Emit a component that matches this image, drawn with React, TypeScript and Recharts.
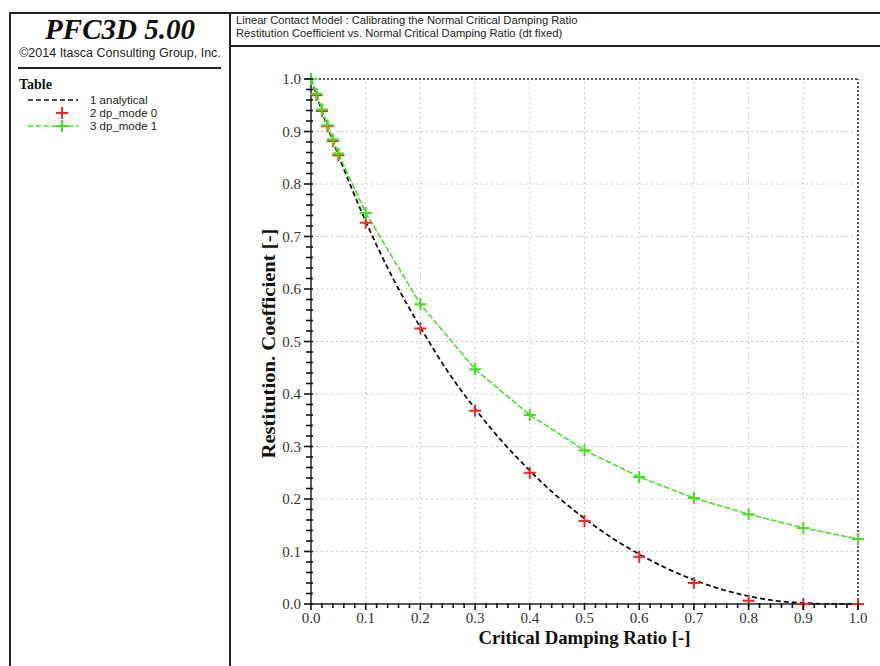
import React from 'react';
import { LineChart, Line, XAxis, YAxis, ReferenceLine } from 'recharts';

// critical damping ratio at which the simulations were run
const dampingRatio = [0, 0.01, 0.02, 0.03, 0.04, 0.05, 0.1, 0.2, 0.3, 0.4, 0.5, 0.6, 0.7, 0.8, 0.9, 1.0];
const dpMode0 = [1.0, 0.969, 0.939, 0.91, 0.882, 0.855, 0.726, 0.525, 0.368, 0.25, 0.158, 0.09, 0.04, 0.006, 0.0, 0.0];
const dpMode1 = [1.0, 0.972, 0.942, 0.912, 0.885, 0.858, 0.745, 0.571, 0.447, 0.36, 0.293, 0.242, 0.202, 0.171, 0.145, 0.124];

// analytical curve
const analyticalRatio = [0, 0.01, 0.02, 0.03, 0.04, 0.05, 0.075, 0.1, 0.15, 0.2, 0.25, 0.3, 0.35, 0.4, 0.45, 0.5, 0.55, 0.6, 0.65, 0.7, 0.75, 0.8, 0.85, 0.9, 0.95, 1.0];
const analyticalCoef = [1.0, 0.969, 0.939, 0.91, 0.882, 0.855, 0.79, 0.729, 0.62, 0.527, 0.443, 0.372, 0.309, 0.254, 0.205, 0.163, 0.126, 0.095, 0.068, 0.046, 0.028, 0.015, 0.006, 0.002, 0.0, 0.0];

const gridValues = [0.1, 0.2, 0.3, 0.4, 0.5, 0.6, 0.7, 0.8, 0.9];
const legendLabels = ['1 analytical', '2 dp_mode 0', '3 dp_mode 1'];

const minorTicks = Array.from({ length: 51 }, (_, i) => Math.round(i * 2) / 100);
const isMajor = (v: number) => Math.abs(v * 10 - Math.round(v * 10)) < 1e-6;

const analytical = analyticalRatio.map((x, i) => ({ x, y: analyticalCoef[i] }));
const mode0 = dampingRatio.map((x, i) => ({ x, y: dpMode0[i] }));
const mode1 = dampingRatio.map((x, i) => ({ x, y: dpMode1[i] }));

const RED = '#ee2a2a';
const GREEN = '#44dd22';
const SERIF = '"Liberation Serif", "DejaVu Serif", serif';
const SANS = '"Liberation Sans", Arial, sans-serif';

const plus = (color: string) => (props: any) => {
  const { cx, cy, index } = props;
  if (cx == null || cy == null) return <g key={index} />;
  return (
    <path
      key={index}
      d={`M${cx - 6},${cy}H${cx + 6}M${cx},${cy - 6}V${cy + 6}`}
      stroke={color}
      strokeWidth={2}
      fill="none"
    />
  );
};

const YTick = (props: any) => {
  const { x, y, payload } = props;
  const major = isMajor(payload.value);
  return (
    <g>
      <path d={`M${x - (major ? 7 : 5)},${y}H${x + 2}`} stroke="#111" strokeWidth={1.6} fill="none" />
      {major && (
        <text x={x - 10} y={y} dy={5} textAnchor="end" fontFamily={SERIF} fontSize={15} fill="#333" stroke="none">
          {payload.value.toFixed(1)}
        </text>
      )}
    </g>
  );
};

const XTick = (props: any) => {
  const { x, y, payload } = props;
  const major = isMajor(payload.value);
  return (
    <g>
      <path d={`M${x},${y - 1}V${y + (major ? 6 : 4)}`} stroke="#111" strokeWidth={1.6} fill="none" />
      {major && (
        <text x={x} y={y} dy={19} textAnchor="middle" fontFamily={SERIF} fontSize={15} fill="#333" stroke="none">
          {payload.value.toFixed(1)}
        </text>
      )}
    </g>
  );
};

const Legend = () => (
  <svg width={220} height={62} style={{ position: 'absolute', left: 10, top: 92 }}>
    <line x1={18} x2={68} y1={8} y2={8} stroke="#111" strokeWidth={1.5} strokeDasharray="5 3" />
    <path d="M46,21H58M52,15V27" stroke={RED} strokeWidth={2} />
    <line x1={18} x2={68} y1={34} y2={34} stroke={GREEN} strokeWidth={1.5} strokeDasharray="5 3" />
    <path d="M46,34H58M52,28V40" stroke={GREEN} strokeWidth={2} />
    {legendLabels.map((t, i) => (
      <text key={t} x={80} y={12 + i * 13} fontFamily={SANS} fontSize={11.5} fill="#222">
        {t}
      </text>
    ))}
  </svg>
);

export default function App() {
  return (
    <div
      style={{
        position: 'absolute',
        left: 0,
        top: 0,
        width: 880,
        height: 666,
        overflow: 'hidden',
        background: '#fff',
      }}
    >
      {/* frame */}
      <div style={{ position: 'absolute', left: 9, top: 12, width: 900, height: 700, border: '2px solid #222' }} />
      <div style={{ position: 'absolute', left: 229, top: 12, width: 2, height: 700, background: '#222' }} />
      <div style={{ position: 'absolute', left: 229, top: 45, width: 660, height: 2, background: '#222' }} />
      <div style={{ position: 'absolute', left: 18, top: 67, width: 203, height: 2, background: '#222' }} />

      {/* header */}
      <div
        style={{
          position: 'absolute',
          left: 10,
          top: 13,
          width: 220,
          textAlign: 'center',
          fontFamily: SERIF,
          fontWeight: 'bold',
          fontStyle: 'italic',
          fontSize: 29,
          color: '#111',
          lineHeight: '32px',
        }}
      >
        PFC3D 5.00
      </div>
      <div
        style={{
          position: 'absolute',
          left: 10,
          top: 46,
          width: 220,
          textAlign: 'center',
          fontFamily: SANS,
          fontSize: 12.5,
          color: '#222',
          lineHeight: '15px',
        }}
      >
        ©2014 Itasca Consulting Group, Inc.
      </div>
      <div
        style={{
          position: 'absolute',
          left: 19,
          top: 77,
          fontFamily: SERIF,
          fontWeight: 'bold',
          fontSize: 14,
          color: '#111',
          lineHeight: '16px',
        }}
      >
        Table
      </div>
      <Legend />
      <div
        style={{
          position: 'absolute',
          left: 236,
          top: 14,
          fontFamily: SANS,
          fontSize: 11.2,
          color: '#222',
          lineHeight: '13px',
        }}
      >
        <div>Linear Contact Model : Calibrating the Normal Critical Damping Ratio</div>
        <div>Restitution Coefficient vs. Normal Critical Damping Ratio (dt fixed)</div>
      </div>

      {/* plot */}
      <div style={{ position: 'absolute', left: 230, top: 47 }}>
        <LineChart width={650} height={619} margin={{ top: 32, right: 22, bottom: 17, left: 31 }}>
          <XAxis
            type="number"
            dataKey="x"
            domain={[0, 1]}
            ticks={minorTicks}
            interval={0}
            tick={<XTick />}
            tickSize={0}
            tickMargin={0}
            tickLine={false}
            height={45}
            axisLine={{ stroke: '#222', strokeWidth: 1.5 }}
            label={{
              content: (p: any) => (
                <text
                  x={p.viewBox.x + p.viewBox.width / 2}
                  y={p.viewBox.y + 40}
                  textAnchor="middle"
                  fontFamily={SERIF}
                  fontWeight="bold"
                  fontSize={19}
                  textLength={212}
                  lengthAdjust="spacingAndGlyphs"
                  fill="#111"
                >
                  Critical Damping Ratio [-]
                </text>
              ),
            }}
          />
          <YAxis
            type="number"
            dataKey="y"
            domain={[0, 1]}
            ticks={minorTicks}
            interval={0}
            tick={<YTick />}
            tickSize={0}
            tickMargin={0}
            tickLine={false}
            width={50}
            axisLine={{ stroke: '#222', strokeWidth: 1.5 }}
            label={{
              content: (p: any) => {
                const cx = p.viewBox.x + 14;
                const cy = p.viewBox.y + p.viewBox.height / 2 + 2;
                return (
                  <text
                    x={cx}
                    y={cy}
                    transform={`rotate(-90, ${cx}, ${cy})`}
                    textAnchor="middle"
                    fontFamily={SERIF}
                    fontWeight="bold"
                    fontSize={19}
                    textLength={230}
                    lengthAdjust="spacingAndGlyphs"
                    fill="#111"
                  >
                    Restitution. Coefficient [-]
                  </text>
                );
              },
            }}
          />
          {gridValues.map((v) => (
            <ReferenceLine key={'h' + v} y={v} stroke="#c8c8c8" strokeDasharray="2 3" />
          ))}
          {gridValues.map((v) => (
            <ReferenceLine key={'v' + v} x={v} stroke="#c8c8c8" strokeDasharray="2 3" />
          ))}
          <ReferenceLine y={1} stroke="#222" strokeWidth={1.5} strokeDasharray="2 2" />
          <ReferenceLine x={1} stroke="#555" strokeWidth={2} strokeDasharray="2 2" />
          <Line
            data={analytical}
            dataKey="y"
            type="monotone"
            stroke="#111"
            strokeWidth={1.8}
            strokeDasharray="5 3"
            dot={false}
            isAnimationActive={false}
          />
          <Line
            data={mode0}
            dataKey="y"
            stroke="none"
            dot={plus(RED)}
            isAnimationActive={false}
          />
          <Line
            data={mode1}
            dataKey="y"
            stroke={GREEN}
            strokeWidth={1.5}
            strokeDasharray="6 2"
            dot={plus(GREEN)}
            isAnimationActive={false}
          />
        </LineChart>
      </div>
    </div>
  );
}
